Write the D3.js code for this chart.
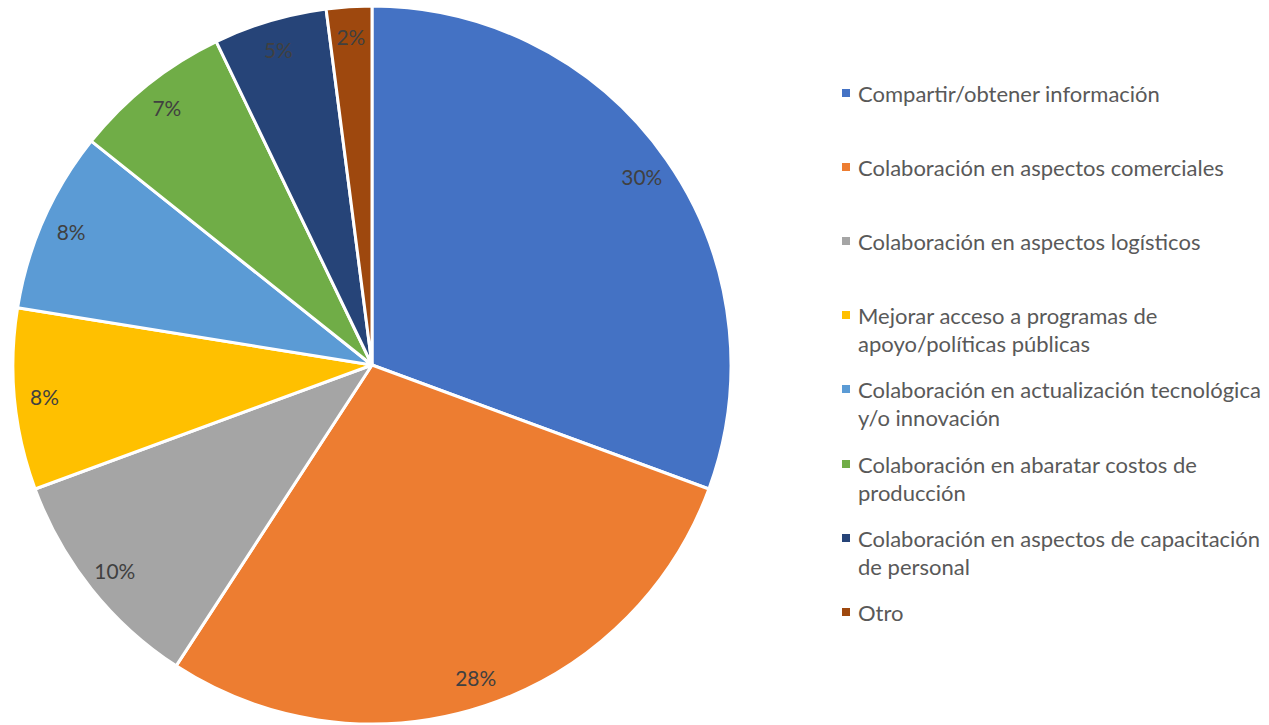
<!DOCTYPE html>
<html>
<head>
<meta charset="utf-8">
<script src="https://cdn.jsdelivr.net/npm/d3@7"></script>
<style>
  html, body { margin: 0; padding: 0; background: #fff; }
  svg { display: block; }
</style>
</head>
<body>
<svg id="chart" width="1269" height="725"></svg>
<script>
// Categories, in drawing order (clockwise from 12 o'clock)
const categories = [
  "Compartir/obtener información",
  "Colaboración en aspectos comerciales",
  "Colaboración en aspectos logísticos",
  "Mejorar acceso a programas de apoyo/políticas públicas",
  "Colaboración en actualización tecnológica y/o innovación",
  "Colaboración en abaratar costos de producción",
  "Colaboración en aspectos de capacitación de personal",
  "Otro"
];
// Legend lines (how each category wraps)
const legendLines = [
  ["Compartir/obtener información"],
  ["Colaboración en aspectos comerciales"],
  ["Colaboración en aspectos logísticos"],
  ["Mejorar acceso a programas de", "apoyo/políticas públicas"],
  ["Colaboración en actualización tecnológica", "y/o innovación"],
  ["Colaboración en abaratar costos de", "producción"],
  ["Colaboración en aspectos de capacitación", "de personal"],
  ["Otro"]
];
// Share of responses, percent
const values = [30, 28, 10, 8, 8, 7, 5, 2];
const colors = ["#4472C4", "#ED7D31", "#A5A5A5", "#FFC000", "#5B9BD5", "#70AD47", "#264478", "#9E480E"];

const svg = d3.select("#chart");
const font = "Lato, 'Open Sans', sans-serif";

// Pick a font size so that a sample string spans the wanted width
function fitSize(sample, width, base) {
  const t = svg.append("text").attr("font-family", font).attr("font-size", base).text(sample);
  const w = t.node().getComputedTextLength();
  t.remove();
  return base * width / w;
}
const legendSize = Math.min(22, fitSize("Colaboración en actualización tecnológica", 406, 20));
const pctSize = Math.min(21, fitSize("30%", 41, 18));

const cx = 372, cy = 365, radius = 359;
const g = svg.append("g").attr("transform", `translate(${cx},${cy})`);

const pie = d3.pie().sort(null).value(d => d)(values);
const arc = d3.arc().innerRadius(0).outerRadius(radius);
const labelArc = d3.arc().innerRadius(329).outerRadius(329);

g.selectAll("path.slice")
  .data(pie)
  .join("path")
  .attr("class", "slice")
  .attr("d", arc)
  .attr("fill", (d, i) => colors[i])
  .attr("stroke", "#fff")
  .attr("stroke-width", 3)
  .attr("stroke-linejoin", "round");

g.selectAll("text.pct")
  .data(pie)
  .join("text")
  .attr("class", "pct")
  .attr("transform", d => `translate(${labelArc.centroid(d)})`)
  .attr("text-anchor", "middle")
  .attr("dominant-baseline", "central")
  .attr("font-family", font)
  .attr("font-size", pctSize)
  .attr("fill", "#404040")
  .text(d => d.data + "%");

// Legend
const legendRows = [93, 167, 241, 315, 389, 464, 538, 612];
const lineGap = 28.5;
const legend = svg.append("g");
legendLines.forEach((lines, i) => {
  const y0 = legendRows[i];
  legend.append("rect")
    .attr("x", 842).attr("y", y0 - 4)
    .attr("width", 8).attr("height", 8)
    .attr("fill", colors[i]);
  const t = legend.append("text")
    .attr("font-family", font)
    .attr("font-size", legendSize)
    .attr("fill", "#595959");
  lines.forEach((ln, j) => {
    t.append("tspan")
      .attr("x", 858)
      .attr("y", y0 + j * lineGap)
      .attr("dominant-baseline", "central")
      .text(ln);
  });
});
</script>
</body>
</html>
